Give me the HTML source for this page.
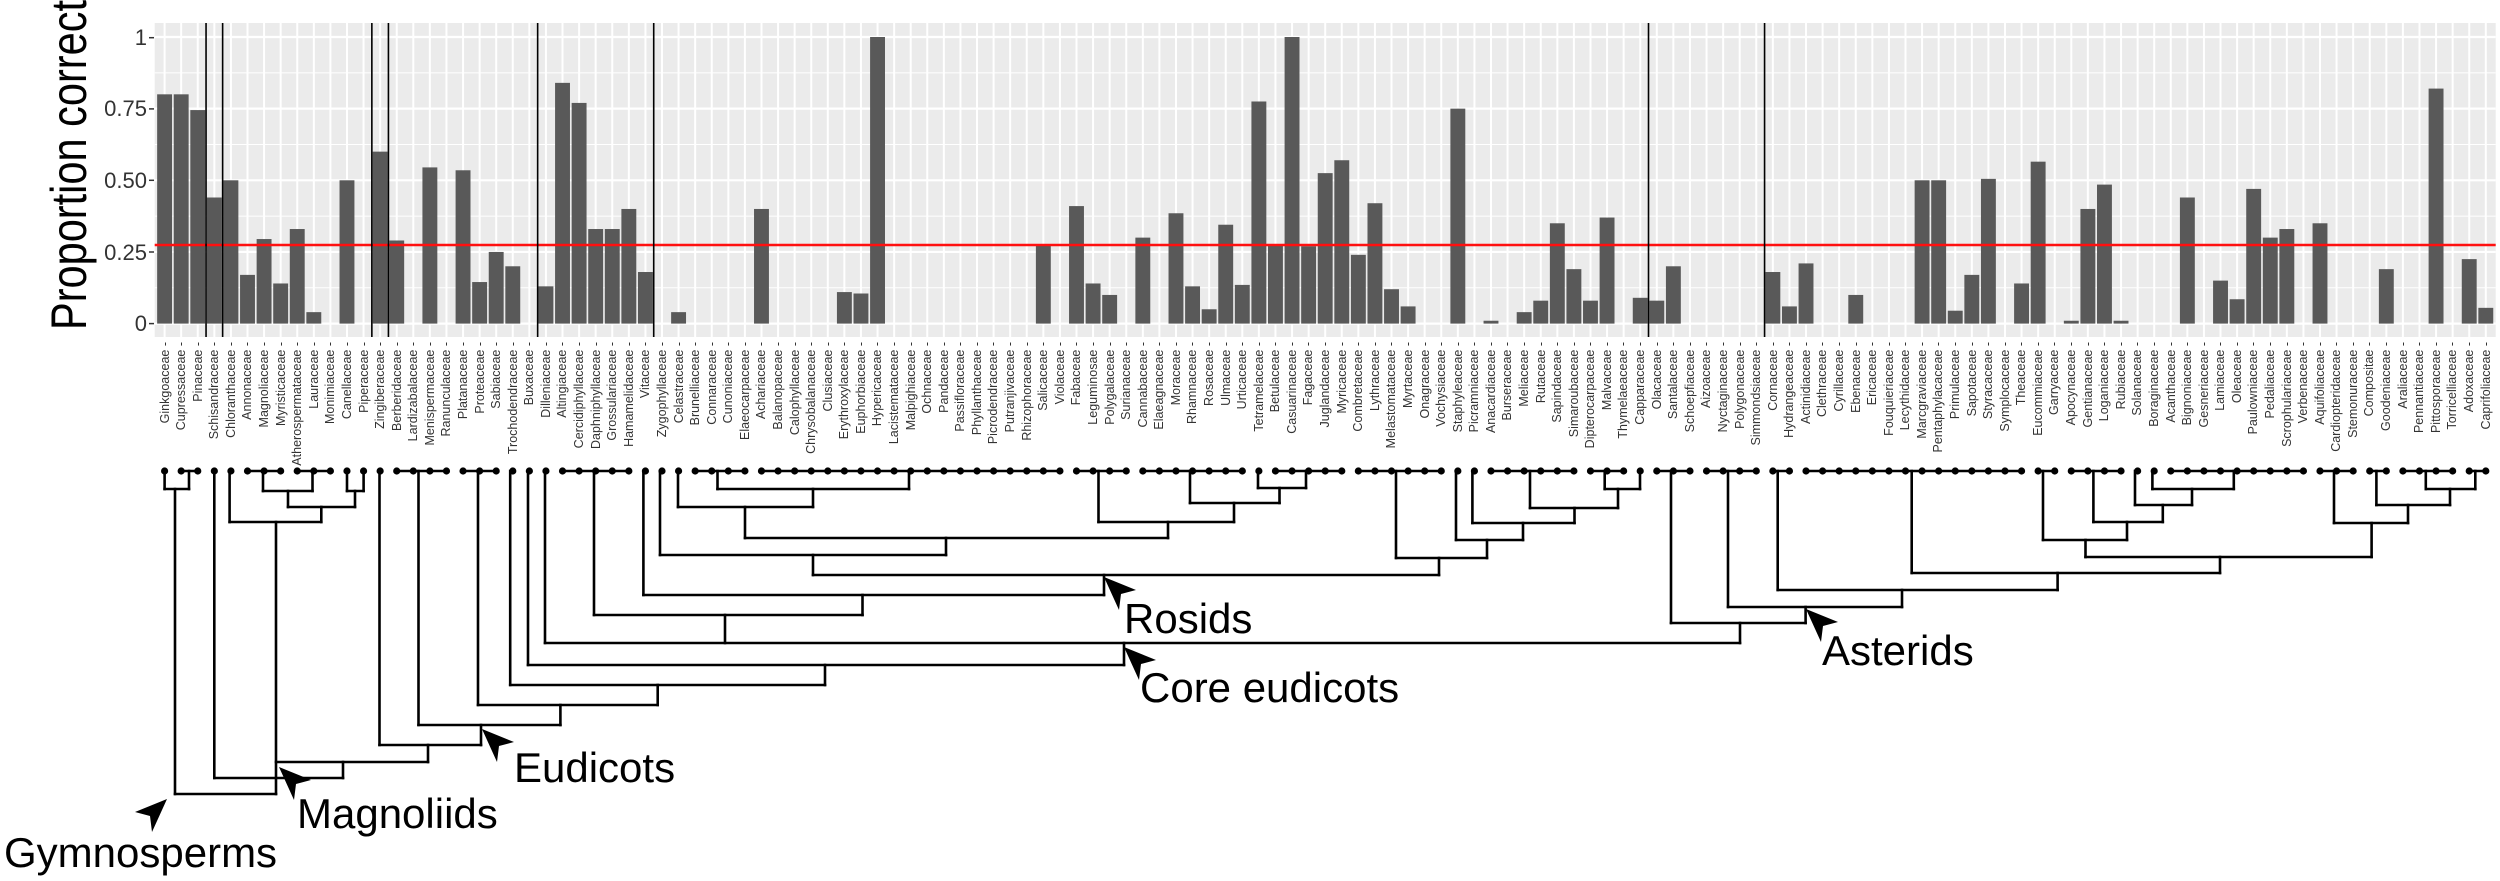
<!DOCTYPE html>
<html><head><meta charset="utf-8">
<style>
html,body{margin:0;padding:0;background:#fff;}
#wrap{position:relative;width:2500px;height:881px;overflow:hidden;background:#fff;font-family:"Liberation Sans",sans-serif;}
svg{position:absolute;left:0;top:0;}
#labs{position:absolute;left:156.3px;top:342px;display:flex;height:140px;}
#labs div{width:16.58px;display:flex;justify-content:center;align-items:flex-start;}
#labs span{writing-mode:vertical-rl;transform:rotate(180deg);font-size:12.5px;line-height:14px;color:#333;white-space:nowrap;}
</style></head><body>
<div id="wrap">
<svg id="s" width="2500" height="881" viewBox="0 0 2500 881" xmlns="http://www.w3.org/2000/svg">
<rect x="154.7" y="23" width="2341" height="314" fill="#EBEBEB"/>
<g id="grid"></g>
<g id="bars" fill="#595959"></g>
<line x1="154.7" x2="2495.7" y1="245" y2="245" stroke="#FF1010" stroke-width="2.5"/>
<g id="vl" stroke="#000" stroke-width="1.6"></g>
<g font-family="Liberation Sans, sans-serif" font-size="22" fill="#333" text-anchor="end">
<text x="147" y="45">1</text>
<text x="147" y="116">0.75</text>
<text x="147" y="188">0.50</text>
<text x="147" y="260">0.25</text>
<text x="147" y="331">0</text>
</g>
<g stroke="#333" stroke-width="1.5">
<line x1="149" x2="154" y1="37.7" y2="37.7"/><line x1="149" x2="154" y1="108.9" y2="108.9"/><line x1="149" x2="154" y1="180.3" y2="180.3"/><line x1="149" x2="154" y1="252" y2="252"/><line x1="149" x2="154" y1="323.6" y2="323.6"/>
</g>
<text transform="translate(86,330) rotate(-90)" font-family="Liberation Sans, sans-serif" font-size="50" fill="#000" textLength="330" lengthAdjust="spacingAndGlyphs">Proportion correct</text>
<g id="tree" stroke="#000" stroke-width="2.6" stroke-linecap="square" fill="none"></g>
<g id="dots" fill="#000"></g>
<g id="arrows" fill="#000"></g>
<g font-family="Liberation Sans, sans-serif" font-size="42" fill="#000">
<text x="1124" y="633">Rosids</text>
<text x="1140" y="702">Core eudicots</text>
<text x="1822" y="665">Asterids</text>
<text x="514" y="782">Eudicots</text>
<text x="297" y="828">Magnoliids</text>
<text x="4" y="867">Gymnosperms</text>
</g>
</svg>
<div id="labs">
<div><span>Ginkgoaceae -</span></div><div><span>Cupressaceae -</span></div><div><span>Pinaceae -</span></div><div><span>Schisandraceae -</span></div><div><span>Chloranthaceae -</span></div><div><span>Annonaceae -</span></div><div><span>Magnoliaceae -</span></div><div><span>Myristicaceae -</span></div><div><span>Atherospermataceae -</span></div><div><span>Lauraceae -</span></div><div><span>Monimiaceae -</span></div><div><span>Canellaceae -</span></div><div><span>Piperaceae -</span></div><div><span>Zingiberaceae -</span></div><div><span>Berberidaceae -</span></div><div><span>Lardizabalaceae -</span></div><div><span>Menispermaceae -</span></div><div><span>Ranunculaceae -</span></div><div><span>Platanaceae -</span></div><div><span>Proteaceae -</span></div><div><span>Sabiaceae -</span></div><div><span>Trochodendraceae -</span></div><div><span>Buxaceae -</span></div><div><span>Dilleniaceae -</span></div><div><span>Altingiaceae -</span></div><div><span>Cercidiphyllaceae -</span></div><div><span>Daphniphyllaceae -</span></div><div><span>Grossulariaceae -</span></div><div><span>Hamamelidaceae -</span></div><div><span>Vitaceae -</span></div><div><span>Zygophyllaceae -</span></div><div><span>Celastraceae -</span></div><div><span>Brunelliaceae -</span></div><div><span>Connaraceae -</span></div><div><span>Cunoniaceae -</span></div><div><span>Elaeocarpaceae -</span></div><div><span>Achariaceae -</span></div><div><span>Balanopaceae -</span></div><div><span>Calophyllaceae -</span></div><div><span>Chrysobalanaceae -</span></div><div><span>Clusiaceae -</span></div><div><span>Erythroxylaceae -</span></div><div><span>Euphorbiaceae -</span></div><div><span>Hypericaceae -</span></div><div><span>Lacistemataceae -</span></div><div><span>Malpighiaceae -</span></div><div><span>Ochnaceae -</span></div><div><span>Pandaceae -</span></div><div><span>Passifloraceae -</span></div><div><span>Phyllanthaceae -</span></div><div><span>Picrodendraceae -</span></div><div><span>Putranjivaceae -</span></div><div><span>Rhizophoraceae -</span></div><div><span>Salicaceae -</span></div><div><span>Violaceae -</span></div><div><span>Fabaceae -</span></div><div><span>Leguminosae -</span></div><div><span>Polygalaceae -</span></div><div><span>Surianaceae -</span></div><div><span>Cannabaceae -</span></div><div><span>Elaeagnaceae -</span></div><div><span>Moraceae -</span></div><div><span>Rhamnaceae -</span></div><div><span>Rosaceae -</span></div><div><span>Ulmaceae -</span></div><div><span>Urticaceae -</span></div><div><span>Tetramelaceae -</span></div><div><span>Betulaceae -</span></div><div><span>Casuarinaceae -</span></div><div><span>Fagaceae -</span></div><div><span>Juglandaceae -</span></div><div><span>Myricaceae -</span></div><div><span>Combretaceae -</span></div><div><span>Lythraceae -</span></div><div><span>Melastomataceae -</span></div><div><span>Myrtaceae -</span></div><div><span>Onagraceae -</span></div><div><span>Vochysiaceae -</span></div><div><span>Staphyleaceae -</span></div><div><span>Picramniaceae -</span></div><div><span>Anacardiaceae -</span></div><div><span>Burseraceae -</span></div><div><span>Meliaceae -</span></div><div><span>Rutaceae -</span></div><div><span>Sapindaceae -</span></div><div><span>Simaroubaceae -</span></div><div><span>Dipterocarpaceae -</span></div><div><span>Malvaceae -</span></div><div><span>Thymelaeaceae -</span></div><div><span>Capparaceae -</span></div><div><span>Olacaceae -</span></div><div><span>Santalaceae -</span></div><div><span>Schoepfiaceae -</span></div><div><span>Aizoaceae -</span></div><div><span>Nyctaginaceae -</span></div><div><span>Polygonaceae -</span></div><div><span>Simmondsiaceae -</span></div><div><span>Cornaceae -</span></div><div><span>Hydrangeaceae -</span></div><div><span>Actinidiaceae -</span></div><div><span>Clethraceae -</span></div><div><span>Cyrillaceae -</span></div><div><span>Ebenaceae -</span></div><div><span>Ericaceae -</span></div><div><span>Fouquieriaceae -</span></div><div><span>Lecythidaceae -</span></div><div><span>Marcgraviaceae -</span></div><div><span>Pentaphylacaceae -</span></div><div><span>Primulaceae -</span></div><div><span>Sapotaceae -</span></div><div><span>Styracaceae -</span></div><div><span>Symplocaceae -</span></div><div><span>Theaceae -</span></div><div><span>Eucommiaceae -</span></div><div><span>Garryaceae -</span></div><div><span>Apocynaceae -</span></div><div><span>Gentianaceae -</span></div><div><span>Loganiaceae -</span></div><div><span>Rubiaceae -</span></div><div><span>Solanaceae -</span></div><div><span>Boraginaceae -</span></div><div><span>Acanthaceae -</span></div><div><span>Bignoniaceae -</span></div><div><span>Gesneriaceae -</span></div><div><span>Lamiaceae -</span></div><div><span>Oleaceae -</span></div><div><span>Paulowniaceae -</span></div><div><span>Pedaliaceae -</span></div><div><span>Scrophulariaceae -</span></div><div><span>Verbenaceae -</span></div><div><span>Aquifoliaceae -</span></div><div><span>Cardiopteridaceae -</span></div><div><span>Stemonuraceae -</span></div><div><span>Compositae -</span></div><div><span>Goodeniaceae -</span></div><div><span>Araliaceae -</span></div><div><span>Pennantiaceae -</span></div><div><span>Pittosporaceae -</span></div><div><span>Torricelliaceae -</span></div><div><span>Adoxaceae -</span></div><div><span>Caprifoliaceae -</span></div>
</div>
</div>
<script>
(function(){
var NS="http://www.w3.org/2000/svg";
function el(p,n,a){var e=document.createElementNS(NS,n);for(var k in a)e.setAttribute(k,a[k]);p.appendChild(e);return e;}
var s=16.58,x0=164.6,Y0=323.6,K=286.6,L=154.7,R=2495.7;
function tx(i){return x0+s*i;}
var v=[.8,.8,.745,.44,.5,.17,.295,.14,.33,.04,0,.5,0,.6,.29,0,.545,0,.535,.145,.25,.2,0,.13,.84,.77,.33,.33,.40,.18,
0,.04,0,0,0,0,.40,0,0,0,0,.11,.105,1,0,0,0,0,0,0,0,0,0,.275,0,.41,.14,.10,0,.30,0,.385,.13,.05,.345,.135,.775,.275,1,.27,
.525,.57,.24,.42,.12,.06,0,0,.75,0,.01,0,.04,.08,.35,.19,.08,.37,0,.09,.08,.2,0,0,0,0,0,.18,.06,.21,0,0,.10,0,0,0,
.5,.5,.045,.17,.505,0,.14,.565,0,.01,.40,.485,.01,0,0,0,.44,0,.15,.085,.47,.30,.33,0,.35,0,0,0,.19,0,0,.82,0,.225,.055];
var g=document.getElementById('grid');
for(var j=0;j<9;j++){var val=j*0.125;var y=Y0-val*K;if(y<23)continue;
 el(g,'line',{x1:L,x2:R,y1:y,y2:y,stroke:'#fff','stroke-width':(j%2==0)?2.2:1});}
el(g,'line',{x1:L,x2:R,y1:Y0+K*0.125,y2:Y0+K*0.125,stroke:'#fff','stroke-width':1});
for(var i=0;i<141;i++){el(g,'line',{x1:tx(i),x2:tx(i),y1:23,y2:337,stroke:'#fff','stroke-width':2});}
var b=document.getElementById('bars');
for(var i=0;i<141;i++){if(v[i]<=0)continue;var h=v[i]*K;el(b,'rect',{x:tx(i)-7.45,y:Y0-h,width:14.9,height:h});}
var vl=document.getElementById('vl');
[2,3,12,13,22,29,89,96].forEach(function(k){var x=tx(k+0.5);el(vl,'line',{x1:x,x2:x,y1:23,y2:337});});
var T=471,tr=document.getElementById('tree');
function H(a,c,y){el(tr,'line',{x1:a,x2:c,y1:y,y2:y});}
function V(x,a,c){el(tr,'line',{x1:x,x2:x,y1:a,y2:c});}
[[1,2],[5,7],[8,10],[14,17],[18,20],[24,28],[32,35],[36,54],[55,58],[59,65],[67,71],[72,77],[80,85],[86,88],[90,92],[93,96],[97,98],[99,112],[113,114],[115,118],[121,129],[130,132],[133,134],[135,138],[139,140]].forEach(function(p){H(tx(p[0]),tx(p[1]),T);});
var d=document.getElementById('dots');
for(var i=0;i<141;i++){el(d,'circle',{cx:tx(i),cy:T,r:3.6});}
H(164.6,189,489);V(164.6,T,489);V(189,T,489);V(175,489,794);
H(175,276,794);V(276,522,794);
V(214.3,T,778);H(214.3,343,778);V(343,762,778);H(276,428,762);V(428,745,762);
H(379.5,481,745);V(379.5,T,745);V(481,725,745);
H(418.5,560.4,725);V(418.5,T,725);V(560.4,705,725);
H(478,657.7,705);V(478,T,705);V(657.7,685,705);
H(510.2,825,685);V(510.2,T,685);V(825,665,685);
H(528,1124,665);V(528,T,665);V(1124,643,665);
H(545,1740,643);V(545,T,643);V(1740,623,643);V(725,615,643);
H(594,862.5,615);V(594,T,615);V(862.5,595,615);
H(643.4,1104,595);V(643.4,T,595);V(1104,575,595);
H(813,1439,575);V(813,555,575);
H(660,946,555);V(660,T,555);V(946,538,555);
H(745,1168,538);V(745,507,538);V(1168,522,538);
H(678,813,507);V(678,T,507);V(813,489,507);
H(717.5,909,489);V(717.5,T,489);V(909,T,489);
V(1098.5,T,522);H(1098.5,1234,522);V(1234,503,522);
H(1190,1279.5,503);V(1190,T,503);V(1279.5,488,503);
H(1258,1306,488);V(1258,T,488);V(1306,T,488);
V(229.6,T,522);H(229.6,321.3,522);V(321.3,507,522);
H(288,355,507);V(288,491,507);H(263,312.5,491);V(263,T,491);V(312.5,T,491);
V(355,491,507);H(347,363.6,491);V(347,T,491);V(363.6,T,491);
V(1439,558,575);H(1396,1487,558);V(1396,T,558);V(1487,540,558);
H(1456,1523,540);V(1456,T,540);V(1523,523,540);
H(1472.4,1574.5,523);V(1472.4,T,523);V(1574.5,508,523);
H(1530,1618,508);V(1530,T,508);V(1618,489,508);
H(1604.7,1640,489);V(1604.7,T,489);V(1640,T,489);
H(1671,1805.6,623);V(1671,T,623);V(1805.6,607,623);
H(1728,1902,607);V(1728,T,607);V(1902,590,607);
H(1777.7,2057.6,590);V(1777.7,T,590);V(2057.6,573,590);
H(1911.7,2220,573);V(1911.7,T,573);V(2220,557,573);
H(2085.5,2371.6,557);V(2085.5,540,557);V(2371.6,523,557);
H(2043,2127,540);V(2043,T,540);V(2127,522,540);
H(2093.4,2162.8,522);V(2093.4,T,522);V(2162.8,505,522);
H(2135,2192,505);V(2135,T,505);V(2192,489,505);
H(2152.4,2233.8,489);V(2152.4,T,489);V(2233.8,T,489);
H(2334,2408,523);V(2334,T,523);V(2408,505,523);
H(2376.4,2450,505);V(2376.4,T,505);V(2450,489,505);
H(2425.8,2475.3,489);V(2425.8,T,489);V(2475.3,T,489);
var ar=document.getElementById('arrows');
function A(x,y,m){var p=[[0,0],[32*m,13],[17*m,17],[15*m,33]].map(function(q){return (x+q[0])+','+(y+q[1]);}).join(' ');el(ar,'polygon',{points:p});}
A(1104,577,1);A(1124,647,1);A(1806,609,1);A(482,729,1);A(279,767,1);A(167,799,-1);
})();
</script>
</body></html>
